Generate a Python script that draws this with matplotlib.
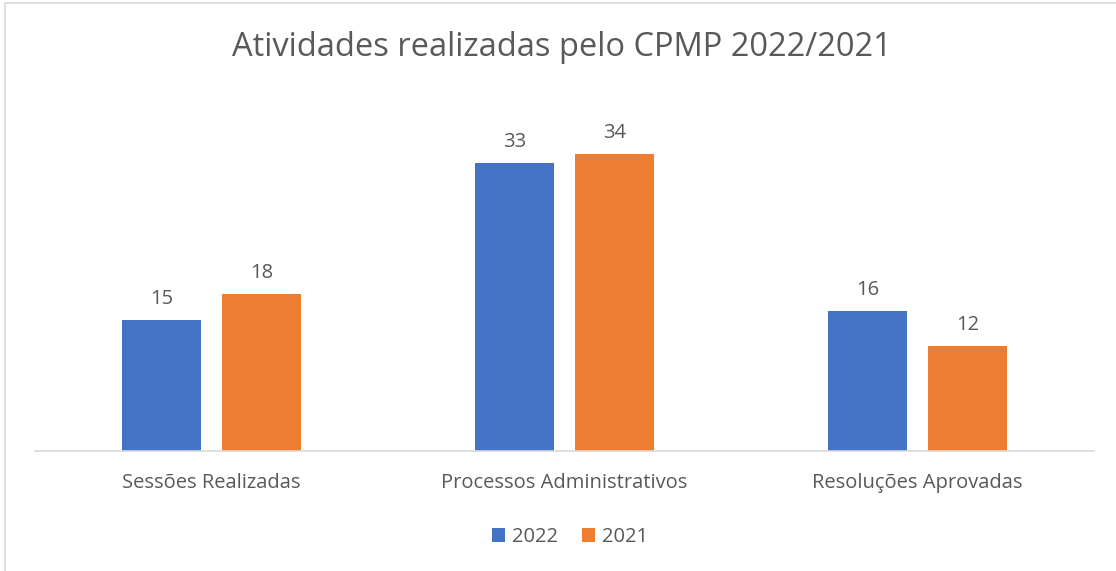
import matplotlib.pyplot as plt
import numpy as np
from matplotlib.patches import Rectangle

categories = ["Sessões Realizadas", "Processos Administrativos", "Resoluções Aprovadas"]
series_names = ["2022", "2021"]
values_2022 = [15, 33, 16]
values_2021 = [18, 34, 12]

BLUE = "#4472C4"
ORANGE = "#ED7D31"
TEXT = "#595959"

plt.rcParams["font.family"] = ["Open Sans", "DejaVu Sans"]

fig = plt.figure(figsize=(11.16, 5.71), dpi=100)
fig.patch.set_facecolor("white")
fig.add_artist(Rectangle((5 / 1116, -0.01), 1.1, (571 - 2.5) / 571 + 0.01,
                         transform=fig.transFigure, facecolor="none",
                         edgecolor="#D9D9D9", linewidth=1.2))

ax = fig.add_axes([35 / 1116, (571 - 451) / 571, (1094 - 35) / 1116, (451 - 102) / 571])
x = np.arange(len(categories))
width = 0.225
gap = 0.058
b1 = ax.bar(x - (width + gap) / 2, values_2022, width, color=BLUE, label=series_names[0])
b2 = ax.bar(x + (width + gap) / 2, values_2021, width, color=ORANGE, label=series_names[1])
for bars in (b1, b2):
    ax.bar_label(bars, padding=8, fontsize=14.5, color=TEXT)

ax.set_xlim(-0.5, 2.5)
ax.set_ylim(0, 40)
ax.set_yticks([])
ax.set_xticks(x)
ax.set_xticklabels(categories, fontsize=14.5, color=TEXT)
ax.tick_params(axis="x", length=0, pad=16)
for side in ("top", "right", "left"):
    ax.spines[side].set_visible(False)
ax.spines["bottom"].set_color("#D9D9D9")
ax.spines["bottom"].set_linewidth(1.2)

fig.text(0.5 + 4 / 1116, (571 - 48) / 571, "Atividades realizadas pelo CPMP 2022/2021",
         ha="center", va="center", fontsize=23.5, color=TEXT)
fig.legend(handles=[b1, b2], loc="center", bbox_to_anchor=(0.5 + 12 / 1116, (571 - 537) / 571),
           ncol=2, frameon=False, fontsize=14.5, labelcolor=TEXT,
           handlelength=0.65, handleheight=0.65, handletextpad=0.35, columnspacing=1.2)

fig.savefig("out.png", dpi=100, facecolor="white")
